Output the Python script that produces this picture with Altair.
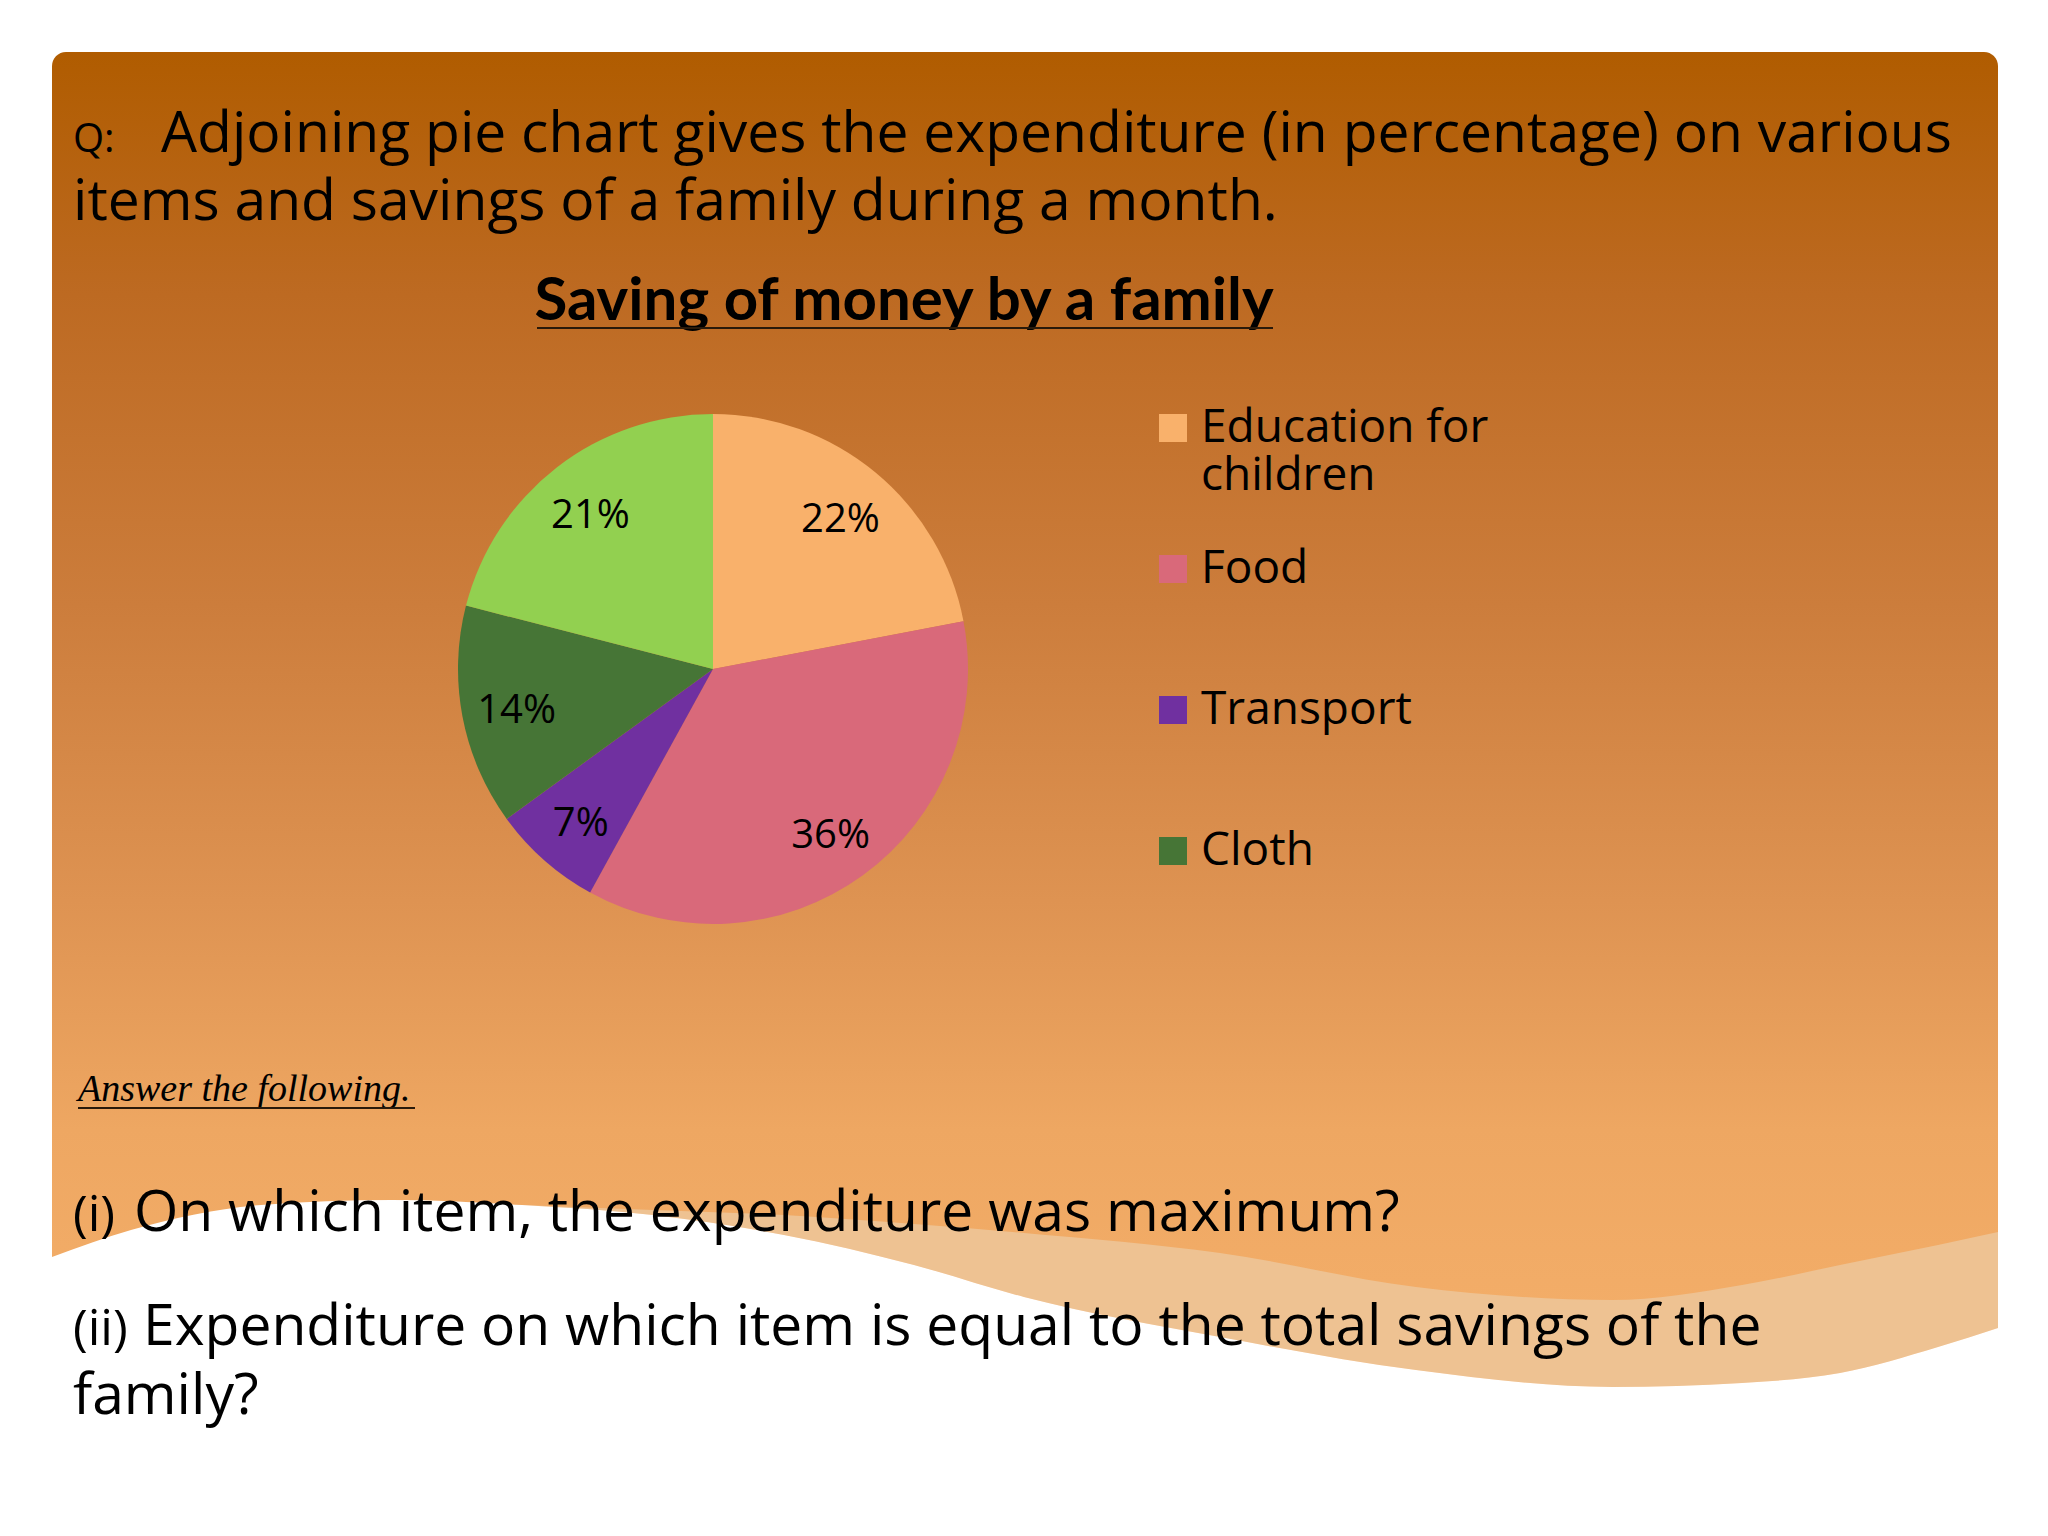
import altair as alt
import pandas as pd

# ---- chart data ----
CATEGORIES = ["Education for children", "Food", "Transport", "Cloth", "Savings"]
PERCENTS = [22, 36, 7, 14, 21]
LABELS = ["22%", "36%", "7%", "14%", "21%"]
COLORS = ["#F9B16B", "#D9697A", "#7030A0", "#467536", "#92D050"]
LEGEND_ITEMS = ["Education for children", "Food", "Transport", "Cloth"]

# ---- slide text ----
Q_PREFIX = "Q:"
Q_LINE1 = "Adjoining pie chart gives the expenditure (in percentage) on various"
Q_LINE2 = "items and savings of a family during a month."
TITLE = "Saving of money by a family"
ANSWER_HEADER = "Answer the following."
Q1_NUM = "(i)"
Q1_TEXT = "On which item, the expenditure was maximum?"
Q2_NUM = "(ii)"
Q2_TEXT = "Expenditure on which item is equal to the total savings of the"
Q2_TEXT2 = "family?"

# ---- decorative wave (page pixel coordinates) ----
WAVE_X = [52, 131, 261, 392, 522, 653, 784, 914, 1024, 1220, 1416, 1612, 1742, 1840, 1938, 1998]
WHITE_TOP = [1257, 1230, 1205, 1200, 1205, 1215, 1235, 1265, 1297, 1337, 1370, 1387, 1383, 1373, 1347, 1328]
BEIGE_TOP = [1257, 1230, 1205, 1200, 1205, 1210, 1215, 1224, 1233, 1253, 1287, 1300, 1285, 1265, 1245, 1232]
PAGE_BOTTOM = 1528

W, H = 2032, 1520
OFF = 8  # page margin

xs = alt.Scale(domain=[OFF, W + OFF], nice=False, zero=False)
ys = alt.Scale(domain=[OFF, H + OFF], nice=False, zero=False, reverse=True)

grad = alt.LinearGradient(
    gradient="linear",
    stops=[
        alt.GradientStop(color="#B05C00", offset=0.0),
        alt.GradientStop(color="#BD6A22", offset=0.18),
        alt.GradientStop(color="#CC7D3C", offset=0.41),
        alt.GradientStop(color="#DE9352", offset=0.63),
        alt.GradientStop(color="#EEA762", offset=0.80),
        alt.GradientStop(color="#F5B06B", offset=1.0),
    ],
    x1=0, x2=0, y1=0, y2=1,
)

one = pd.DataFrame({"k": [0]})

bg = alt.Chart(one).mark_rect(cornerRadius=14, fill=grad).encode(
    x=alt.value(52 - OFF), x2=alt.value(1998 - OFF),
    y=alt.value(52 - OFF), y2=alt.value(1400 - OFF),
)

wave_df = pd.DataFrame({
    "x": WAVE_X, "white": WHITE_TOP, "beige": BEIGE_TOP,
    "bottom": [PAGE_BOTTOM] * len(WAVE_X),
})
beige = alt.Chart(wave_df).mark_area(color="#EEC292", interpolate="monotone").encode(
    x=alt.X("x:Q", scale=xs, axis=None),
    y=alt.Y("beige:Q", scale=ys, axis=None),
    y2="white:Q",
)
white = alt.Chart(wave_df).mark_area(color="#FFFFFF", interpolate="monotone").encode(
    x=alt.X("x:Q", scale=xs, axis=None),
    y=alt.Y("white:Q", scale=ys, axis=None),
    y2="bottom:Q",
)

pie_df = pd.DataFrame({
    "category": CATEGORIES,
    "percent": PERCENTS,
    "label": LABELS,
    "order": list(range(len(CATEGORIES))),
})

CX, CY = 713 - OFF, 669 - OFF

arc = alt.Chart(pie_df).mark_arc(outerRadius=255).encode(
    theta=alt.Theta("percent:Q", stack=True),
    order=alt.Order("order:Q"),
    color=alt.Color(
        "category:N",
        scale=alt.Scale(domain=CATEGORIES, range=COLORS),
        legend=alt.Legend(
            title=None,
            orient="none",
            legendX=1150 - OFF,
            legendY=405 - OFF,
            values=LEGEND_ITEMS,
            symbolType="square",
            symbolSize=784,
            symbolStrokeWidth=0,
            labelFont="Open Sans",
            labelFontSize=46,
            labelColor="#000000",
            labelOffset=5,
            labelLimit=800,
            rowPadding=47,
            gridAlign="all",
            padding=0,
            labelExpr="datum.label == 'Education for children' ? ['Education for', 'children'] : datum.label",
        ),
    ),
    x=alt.value(CX), y=alt.value(CY),
)

pie_text = alt.Chart(pie_df).mark_text(
    radius=200, fontSize=40, font="Open Sans", color="#000000", baseline="middle", align="center", dy=5
).encode(
    theta=alt.Theta("percent:Q", stack=True),
    order=alt.Order("order:Q"),
    text=alt.Text("label:N"),
    x=alt.value(CX), y=alt.value(CY),
)


def txt(s, x, y, size, font, weight="normal", style="normal", align="left"):
    return alt.Chart(pd.DataFrame({"t": [s]})).mark_text(
        align=align, baseline="alphabetic", fontSize=size, font=font,
        fontWeight=weight, fontStyle=style, color="#000000",
    ).encode(text="t:N", x=alt.value(x - OFF), y=alt.value(y - OFF))


def rule(x1, x2, y, width, color):
    return alt.Chart(one).mark_rule(strokeWidth=width, color=color).encode(
        x=alt.value(x1 - OFF), x2=alt.value(x2 - OFF), y=alt.value(y - OFF)
    )


QF = "Open Sans"
texts = [
    txt(Q_PREFIX, 73, 152, 40, QF),
    txt(Q_LINE1, 161, 152, 57, QF),
    txt(Q_LINE2, 73, 220, 57, QF),
    txt(TITLE, 904, 320, 60, "Lato", weight="bold", align="center"),
    rule(537, 1273, 328, 2, "#2a1a0a"),
    txt(ANSWER_HEADER, 78, 1101, 38, "Liberation Serif", style="italic"),
    rule(78, 415, 1108, 2, "#2a1a0a"),
    txt(Q1_NUM, 73, 1231, 50, QF),
    txt(Q1_TEXT, 134, 1231, 57, QF),
    txt(Q2_NUM, 73, 1345, 50, QF),
    txt(Q2_TEXT, 143, 1345, 57, QF),
    txt(Q2_TEXT2, 73, 1414, 57, QF),
]

chart = alt.layer(bg, beige, white, arc, pie_text, *texts).properties(
    width=W, height=H, padding=0, autosize=alt.AutoSizeParams(type="none"),
    background="#FFFFFF",
).configure_view(strokeWidth=0)

chart.save("out.html", embed_options={"renderer": "svg", "actions": False})
